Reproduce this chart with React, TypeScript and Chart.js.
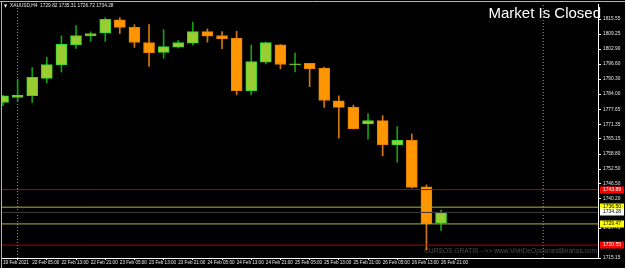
import React, { useEffect, useRef } from "react";
import { Chart, registerables } from "chart.js";

Chart.register(...registerables);

// ---- data ----
const barIndex = [0,1,2,3,4,5,6,7,8,9,10,11,12,13,14,15,16,17,18,19,20,21,22,23,24,25,26,27,28,29,30];
const opens = [1780.49,1782.56,1783.39,1790.62,1796.27,1804.75,1808.49,1809.73,1815.26,1812.06,1805.70,1801.55,1803.75,1805.41,1810.27,1808.61,1807.49,1785.47,1797.39,1804.75,1796.27,1796.98,1794.90,1781.19,1778.57,1771.51,1772.88,1762.62,1764.57,1745.05,1729.82];
const highs = [1783.48,1790.21,1795.19,1799.47,1808.49,1812.77,1810.15,1816.09,1816.09,1813.18,1813.18,1811.10,1806.53,1814.14,1811.40,1810.27,1810.40,1804.58,1805.90,1804.87,1801.26,1796.98,1795.32,1783.27,1779.41,1775.79,1774.96,1770.39,1767.19,1745.88,1735.31];
const lows = [1779.12,1780.78,1780.49,1788.67,1793.24,1803.21,1806.12,1806.12,1809.44,1803.63,1795.61,1799.06,1803.34,1804.58,1805.83,1803.09,1783.69,1783.69,1796.69,1794.61,1793.36,1787.13,1778.41,1765.53,1769.27,1765.11,1758.05,1755.43,1744.60,1718.46,1726.72];
const closes = [1783.27,1783.56,1791.04,1796.44,1804.87,1808.61,1809.44,1815.38,1812.06,1805.70,1801.42,1803.92,1805.70,1810.27,1808.32,1807.24,1785.47,1797.69,1805.70,1796.44,1796.69,1794.61,1781.32,1778.41,1769.44,1772.88,1762.79,1764.57,1744.76,1729.55,1734.28];

const timeTickIndex = [0,2,4,6,8,10,12,14,16,18,20,22,24,26,28,30];
const timeTickLabels = ["19 Feb 2021","22 Feb 05:00","22 Feb 13:00","22 Feb 21:00","23 Feb 05:00","23 Feb 13:00","23 Feb 21:00","24 Feb 05:00","24 Feb 13:00","24 Feb 21:00","25 Feb 05:00","25 Feb 13:00","25 Feb 21:00","26 Feb 05:00","26 Feb 13:00","26 Feb 21:00"];
const priceTicks = [1815.55,1809.25,1802.90,1796.60,1790.30,1784.00,1777.65,1771.35,1765.15,1758.80,1752.50,1746.50,1740.20,1727.75,1715.15];

const redLevels = [1743.89, 1720.55];
const yellowLevels = [1736.50, 1729.47];
const bidPrice = 1734.28;
const separatorIndex = [1, 37];

const symbolText = "XAUUSD,H4  1729.82 1735.31 1726.72 1734.28";
const statusText = "Market Is Closed";
const watermarkText = "CURSOS GRATIS -->> www.VivirDeOpcionesBinarias.com";

const X_MIN = -0.07;
const X_MAX = 40.75;
const Y_MIN = 1715.15;
const Y_MAX = 1821.49;

const isBull = (i: number) => closes[i] >= opens[i];

const overlay = {
  id: "mt4overlay",
  beforeDatasetsDraw(chart: any) {
    const ctx = chart.ctx;
    ctx.save();
    ctx.font = '6.6px "Liberation Sans"';
    ctx.fillStyle = "#4b4b4b";
    ctx.textAlign = "right";
    ctx.textBaseline = "middle";
    ctx.fillText(watermarkText, 597, 251);
    ctx.restore();
  },
  afterDraw(chart: any) {
    const ctx = chart.ctx;
    const ys = chart.scales.y;
    ctx.save();
    // window frame
    ctx.strokeStyle = "#b4b4b4";
    ctx.lineWidth = 1;
    ctx.beginPath();
    ctx.moveTo(0, 1.5); ctx.lineTo(625, 1.5);
    ctx.moveTo(1.5, 1.5); ctx.lineTo(1.5, 268);
    ctx.stroke();
    // header
    ctx.fillStyle = "#ffffff";
    ctx.textBaseline = "middle";
    ctx.textAlign = "left";
    ctx.font = '4px "DejaVu Sans"';
    ctx.fillText("\u25BC", 4, 6);
    ctx.font = '4.8px "Liberation Sans"';
    ctx.fillStyle = "#e8e8e8";
    ctx.fillText(symbolText, 10, 6);
    // status
    ctx.font = '15px "Liberation Sans"';
    ctx.fillStyle = "#ffffff";
    ctx.textAlign = "right";
    ctx.textBaseline = "alphabetic";
    ctx.fillText(statusText, 601, 18);
    // price labels
    const drawLabel = (v: number, bg: string, fg: string) => {
      const y = ys.getPixelForValue(v);
      ctx.fillStyle = bg;
      ctx.fillRect(600, Math.round(y) - 3.5, 24, 7);
      ctx.fillStyle = fg;
      ctx.font = '5px "Liberation Sans"';
      ctx.textAlign = "left";
      ctx.textBaseline = "middle";
      ctx.fillText(v.toFixed(2), 603, Math.round(y));
    };
    redLevels.forEach((v) => drawLabel(v, "#ff0000", "#ffffff"));
    yellowLevels.forEach((v) => drawLabel(v, "#ffff00", "#000000"));
    drawLabel(bidPrice, "#ffffff", "#000000");
    ctx.restore();
  },
};

export default function App() {
  const ref = useRef<HTMLCanvasElement | null>(null);

  useEffect(() => {
    if (!ref.current) return;
    const hLine = (v: number, color: string) => ({
      type: "line" as const,
      data: [{ x: X_MIN, y: v }, { x: X_MAX, y: v }],
      borderColor: color,
      borderWidth: 1,
      pointRadius: 0,
      order: 0,
    });
    const vLine = (x: number) => ({
      type: "line" as const,
      data: [{ x, y: Y_MIN }, { x, y: Y_MAX }],
      borderColor: "#9a9a9a",
      borderWidth: 1,
      borderDash: [1, 2],
      pointRadius: 0,
      order: 5,
    });
    const chart = new Chart(ref.current, {
      type: "bar",
      data: {
        datasets: [
          ...separatorIndex.map(vLine),
          {
            type: "bar",
            data: barIndex.map((i) => ({ x: i, y: [lows[i], highs[i]] })),
            backgroundColor: barIndex.map((i) => (isBull(i) ? "#12a012" : "#d07810")),
            borderWidth: 0,
            barThickness: 1,
            grouped: false,
            order: 3,
          } as any,
          {
            type: "bar",
            data: barIndex.map((i) => ({ x: i, y: [opens[i], closes[i]] })),
            backgroundColor: barIndex.map((i) => (isBull(i) ? "#9acd32" : "#ff9500")),
            borderColor: barIndex.map((i) => (isBull(i) ? "#34d834" : "#e68200")),
            borderWidth: 1,
            borderSkipped: false,
            barThickness: 11,
            grouped: false,
            order: 2,
          } as any,
          ...redLevels.map((v) => hLine(v, "#b40000")),
          ...yellowLevels.map((v) => hLine(v, "#b0b040")),
          hLine(bidPrice, "#3a3a3a"),
        ] as any,
      },
      options: {
        responsive: false,
        animation: false,
        devicePixelRatio: 1,
        events: [],
        layout: { padding: { left: 2, top: 2, right: 0, bottom: 0 } },
        plugins: { legend: { display: false }, tooltip: { enabled: false } },
        scales: {
          x: {
            type: "linear",
            min: X_MIN,
            max: X_MAX,
            offset: false,
            afterBuildTicks: (axis: any) => {
              axis.ticks = timeTickIndex.map((v) => ({ value: v }));
            },
            afterFit: (axis: any) => {
              axis.height = 10;
            },
            ticks: {
              autoSkip: false,
              maxRotation: 0,
              minRotation: 0,
              align: "start",
              padding: 0,
              color: "#e6e6e6",
              font: { family: "Liberation Sans", size: 4.6 },
              callback: (_v: any, idx: number) => timeTickLabels[idx],
            },
            grid: { drawOnChartArea: false, drawTicks: true, tickLength: 2, color: "#ffffff" },
            border: { display: true, color: "#ffffff", width: 1 },
          },
          y: {
            type: "linear",
            position: "right",
            min: Y_MIN,
            max: Y_MAX,
            afterBuildTicks: (axis: any) => {
              axis.ticks = priceTicks.map((v) => ({ value: v }));
            },
            afterFit: (axis: any) => {
              axis.width = 27;
            },
            ticks: {
              autoSkip: false,
              padding: 2,
              color: "#e6e6e6",
              font: { family: "Liberation Sans", size: 4.8 },
              callback: (v: any) => Number(v).toFixed(2),
            },
            grid: { drawOnChartArea: false, drawTicks: true, tickLength: 3, color: "#ffffff" },
            border: { display: true, color: "#ffffff", width: 1 },
          },
        },
      } as any,
      plugins: [overlay],
    });
    return () => chart.destroy();
  }, []);

  return (
    <div style={{ position: "fixed", left: 0, top: 0, width: 625, height: 268, background: "#000000" }}>
      <canvas ref={ref} width={625} height={268} style={{ display: "block" }} />
    </div>
  );
}
